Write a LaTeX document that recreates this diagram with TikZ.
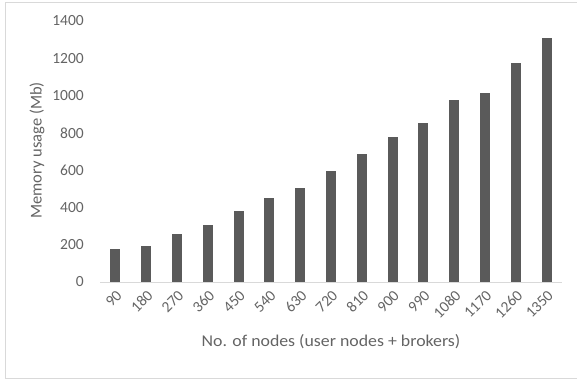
\documentclass[tikz,border=0pt]{standalone}
\usepackage{fontspec}
\setmainfont{Carlito}
\definecolor{txt}{HTML}{646464}
\definecolor{barc}{HTML}{5A5A5A}
\definecolor{axisc}{HTML}{D9D9D9}
\begin{document}
\begin{tikzpicture}[x=1pt,y=1pt,
  lbl/.style={font=\fontsize{15.5}{17}\selectfont,text=txt,inner sep=0pt},
  ttl/.style={font=\fontsize{16.5}{18}\selectfont,text=txt,inner sep=0pt},
  bar/.style={fill=barc,draw=none}]
\useasboundingbox (0,0) rectangle (577,380);
\begin{scope}
\clip (0,0) rectangle (577,380);
\node[draw=axisc,line width=1pt,minimum width=576pt,minimum height=375pt,inner sep=0pt] (frame) at (293,189.5) {};
\end{scope}
% y ticks (baseline at 380-282 = 98, 1400 -> 261pt)
\foreach \v in {0,200,...,1400}{
  \node[lbl,anchor=east] (y\v) at (84,{98+\v/1400*261}) {\v};
}
% bars
\foreach \n/\val [count=\k from 0] in {90/177,180/195,270/259,360/307,450/379,540/449,630/504,720/595,810/687,900/778,990/855,1080/976,1170/1015,1260/1173,1350/1310}{
  \pgfmathsetmacro\cx{115.4+30.8*\k}
  \pgfmathsetmacro\ty{98+\val/1400*261}
  \fill[bar] (\cx-5,98) rectangle (\cx+5,\ty);
  \node[lbl,anchor=east,rotate=45] (x\k) at (\cx+4,87) {\n};
}
\coordinate (a0) at (100,98);
\coordinate (a1) at (562,98);
\draw[axisc,line width=0.8pt] (a0) -- (a1);
\node[ttl,rotate=90] (ylab) at (37,229.5) {Memory usage (Mb)};
\node[ttl,xscale=1.08] (xlab) at (331,38) {No. of nodes (user nodes + brokers)};
\end{tikzpicture}
\end{document}
